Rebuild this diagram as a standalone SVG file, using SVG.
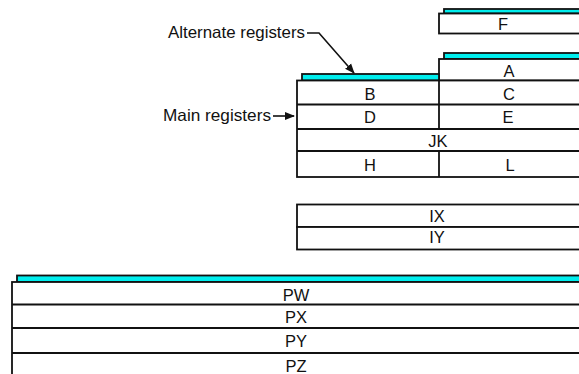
<svg xmlns="http://www.w3.org/2000/svg" width="579" height="374" viewBox="0 0 579 374">
  <style>
    .box { fill: #ffffff; stroke: #111111; stroke-width: 1.8; }
    .alt { fill: #00eeee; stroke: #111111; stroke-width: 1.8; }
    .rule { stroke: #111111; stroke-width: 1.8; fill: none; }
    .reg { font-family: "Liberation Sans", Arial, sans-serif; font-size: 16.5px; fill: #111111; text-anchor: middle; }
    .lbl { font-family: "Liberation Sans", Arial, sans-serif; font-size: 16.5px; fill: #111111; }
    .conn { stroke: #111111; stroke-width: 1.6; fill: none; }
  </style>
  <defs>
    <marker id="arrow" viewBox="0 0 10 10" refX="9" refY="5" markerWidth="10" markerHeight="10" markerUnits="userSpaceOnUse" orient="auto">
      <path d="M0,1 L10,5 L0,9 Z" fill="#111111"/>
    </marker>
  </defs>

  <rect width="579" height="374" fill="#ffffff"/>

  <!-- Flag register with its alternate copy behind -->
  <g id="reg-F">
    <rect class="alt" x="444" y="9" width="145" height="4.5"/>
    <rect class="box" x="439" y="13.5" width="150" height="20"/>
    <text class="reg" x="503" y="30">F</text>
  </g>

  <!-- Accumulator with its alternate copy behind -->
  <g id="reg-A">
    <rect class="alt" x="444" y="53" width="145" height="6"/>
    <rect class="box" x="439" y="59" width="150" height="21.5"/>
    <text class="reg" x="509" y="76.5">A</text>
  </g>

  <!-- Main general-purpose bank: B/C, D/E, JK, H/L -->
  <g id="reg-main">
    <rect class="alt" x="302" y="74" width="137" height="6.5"/>
    <rect class="box" x="297" y="80.5" width="292" height="96.5"/>
    <line class="rule" x1="297" y1="104.5" x2="589" y2="104.5"/>
    <line class="rule" x1="297" y1="129" x2="589" y2="129"/>
    <line class="rule" x1="297" y1="151" x2="589" y2="151"/>
    <line class="rule" x1="439" y1="80.5" x2="439" y2="129"/>
    <line class="rule" x1="439" y1="151" x2="439" y2="177"/>
    <text class="reg" x="370" y="99.5">B</text>
    <text class="reg" x="509" y="99.5">C</text>
    <text class="reg" x="370" y="122.7">D</text>
    <text class="reg" x="508" y="122.7">E</text>
    <text class="reg" x="438" y="146.5">JK</text>
    <text class="reg" x="370" y="170.7">H</text>
    <text class="reg" x="510" y="170.7">L</text>
  </g>

  <!-- Index registers -->
  <g id="reg-IX">
    <rect class="box" x="297" y="204.5" width="292" height="22.5"/>
    <text class="reg" x="437" y="221.7">IX</text>
  </g>
  <g id="reg-IY">
    <rect class="box" x="297" y="227" width="292" height="22.5"/>
    <text class="reg" x="437" y="243.3">IY</text>
  </g>

  <!-- Pointer registers with alternate copy behind -->
  <g id="reg-P">
    <rect class="alt" x="17" y="275.5" width="572" height="6.5"/>
    <rect class="box" x="12" y="282" width="577" height="100"/>
    <line class="rule" x1="12" y1="304.5" x2="589" y2="304.5"/>
    <line class="rule" x1="12" y1="328" x2="589" y2="328"/>
    <line class="rule" x1="12" y1="353" x2="589" y2="353"/>
    <text class="reg" x="296" y="300.7">PW</text>
    <text class="reg" x="296" y="323.3">PX</text>
    <text class="reg" x="296" y="346.7">PY</text>
    <text class="reg" x="296" y="371.7">PZ</text>
  </g>

  <!-- Labels -->
  <g id="label-alternate">
    <text class="lbl" x="168" y="37.5" textLength="137" lengthAdjust="spacingAndGlyphs">Alternate registers</text>
  </g>
  <g id="label-main">
    <text class="lbl" x="163" y="120.7" textLength="108" lengthAdjust="spacingAndGlyphs">Main registers</text>
  </g>

  <!-- Leader arrows -->
  <g id="connectors">
    <polyline class="conn" points="307,33 319,33 354,73" marker-end="url(#arrow)"/>
    <line class="conn" x1="273" y1="116" x2="294" y2="116" marker-end="url(#arrow)"/>
  </g>
</svg>
